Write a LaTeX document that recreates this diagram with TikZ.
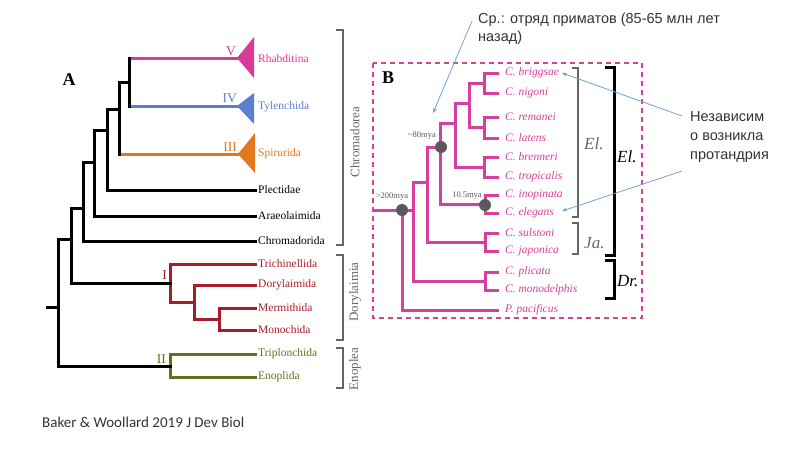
\documentclass[tikz,border=0pt]{standalone}
\usepackage{fontspec}
\setmainfont{Liberation Serif}
\newfontfamily\annfont{Liberation Sans}
\newfontfamily\footfont{Carlito}
\usetikzlibrary{arrows.meta}
\definecolor{pkA}{HTML}{D63C98}
\definecolor{blA}{HTML}{5B7ED0}
\definecolor{orA}{HTML}{E2791C}
\definecolor{rdA}{HTML}{A61C2C}
\definecolor{olA}{HTML}{6C6C1E}
\definecolor{pkB}{HTML}{D6409C}
\definecolor{gryB}{HTML}{666666}
\definecolor{dotB}{HTML}{5A5A5A}
\definecolor{annB}{HTML}{6FA2D8}
\definecolor{txtD}{HTML}{333333}
\begin{document}
\begin{tikzpicture}[x=1pt,y=-1pt,
  treeline/.style={line width=3pt, line cap=rect, line join=miter},
  blk/.style={treeline, black},
  labA/.style={anchor=west, inner sep=0pt, font=\fontsize{11.5}{13}\selectfont},
  labB/.style={anchor=west, inner sep=0pt, text=pkB, font=\fontsize{11.5}{13}\selectfont\itshape},
  numA/.style={anchor=east, inner sep=0pt, font=\fontsize{13.5}{14}\selectfont},
  brk/.style={line width=2.5pt, gryB, line join=miter},
  brkK/.style={line width=3pt, black, line join=miter},
  grp/.style={rotate=90, inner sep=0pt, text=gryB, font=\fontsize{13}{14}\selectfont},
  myalab/.style={inner sep=0pt, text=dotB, font=\fontsize{8.5}{9}\selectfont},
  dotnode/.style={circle, fill=dotB, minimum size=12pt, inner sep=0pt},
  annline/.style={annB, line width=0.8pt, -{Stealth[length=5pt,width=4pt]}},
  bigit/.style={anchor=west, inner sep=0pt, font=\fontsize{17}{18}\selectfont\itshape}
]
\useasboundingbox (0,0) rectangle (800,450);

% ---------------- Tree A ----------------
\coordinate (Rh) at (237,58);
\coordinate (Ty) at (237,106);
\coordinate (Sp) at (238,154);
\coordinate (Pl) at (255,190);
\coordinate (Ar) at (255,216);
\coordinate (Ch) at (255,241);
\coordinate (Tr) at (255,264);
\coordinate (Do) at (255,285);
\coordinate (Me) at (255,308);
\coordinate (Mo) at (255,330);
\coordinate (Tp) at (255,354);
\coordinate (En) at (255,377);
\coordinate (n5) at (129,82);
\coordinate (n4) at (119,109);
\coordinate (n3) at (107,130);
\coordinate (n2) at (94,162);
\coordinate (n1) at (83,208);
\coordinate (nC) at (71,239);
\coordinate (r0) at (58,307);
\coordinate (r0s) at (47,307);
\coordinate (nI) at (170,283);
\coordinate (nDo) at (194,302);
\coordinate (nMe) at (219,319);
\coordinate (nII) at (170,366);

% coloured clades
\draw[treeline, pkA] (n5 |- Rh) -- (Rh);
\fill[pkA] (Rh) -- ++(17,-21) -- ++(0,41) -- cycle;
\draw[treeline, blA] (n5 |- Ty) -- (Ty);
\fill[blA] (Ty) -- ++(17,-13) -- ++(0,31) -- cycle;
\draw[treeline, orA] (n4 |- Sp) -- (Sp);
\fill[orA] (Sp) -- ++(17,-21) -- ++(0,40) -- cycle;
\draw[treeline, rdA] (Tr) -| (nI |- nDo) -- (nDo);
\draw[treeline, rdA] (Do) -| (nDo |- nMe) -- (nMe);
\draw[treeline, rdA] (Me) -| (nMe |- Mo) -- (Mo);
\draw[treeline, olA] (Tp) -| (nII |- En) -- (En);

% black backbone
\draw[blk] (n5 |- Rh) -- (n5 |- Ty);
\draw[blk] (n4 |- Sp) |- (n5);
\draw[blk] (n3 |- Pl) |- (n4);
\draw[blk] (n3 |- Pl) -- (Pl);
\draw[blk] (n2 |- Ar) |- (n3);
\draw[blk] (n2 |- Ar) -- (Ar);
\draw[blk] (n1 |- Ch) |- (n2);
\draw[blk] (n1 |- Ch) -- (Ch);
\draw[blk] (nC |- nI) |- (n1);
\draw[blk] (nC |- nI) -- (nI);
\draw[blk] (r0 |- nII) |- (nC);
\draw[blk] (r0 |- nII) -- (nII);
\draw[blk] (r0s) -- (r0);

% labels A
\node[labA, text=pkA] (lRh) at (258,59) {Rhabditina};
\node[labA, text=blA] (lTy) at (258,107) {Tylenchida};
\node[labA, text=orA] (lSp) at (258,154) {Spirurida};
\node[labA] (lPl) at (258,190) {Plectidae};
\node[labA] (lAr) at (258,216) {Araeolaimida};
\node[labA] (lCh) at (258,241) {Chromadorida};
\node[labA, text=rdA] (lTr) at (258,264) {Trichinellida};
\node[labA, text=rdA] (lDo) at (258,285) {Dorylaimida};
\node[labA, text=rdA] (lMe) at (258,308) {Mermithida};
\node[labA, text=rdA] (lMo) at (258,330) {Monochida};
\node[labA, text=olA] (lTp) at (258,354) {Triplonchida};
\node[labA, text=olA] (lEn) at (258,377) {Enoplida};

\node[numA, text=pkA] (rV) at (236,51) {V};
\node[numA, text=blA] (rIV) at (237,98) {IV};
\node[numA, text=orA] (rIII) at (237,147) {III};
\node[numA, text=rdA] (rI) at (167,275) {I};
\node[numA, text=olA] (rII) at (166,359) {II};

\node[inner sep=0pt, font=\fontsize{18}{20}\selectfont\bfseries] (letA) at (69,80) {A};

% group brackets A
\draw[brk] (336,30) -- (343,30) -- (343,245) -- (336,245);
\draw[brk] (336,255) -- (343,255) -- (343,340) -- (336,340);
\draw[brk] (336,348) -- (343,348) -- (343,388) -- (336,388);
\node[grp] (gCh) at (355,142) {Chromadorea};
\node[grp] (gDo) at (355,292) {Dorylaimia};
\node[grp] (gEn) at (355,369) {Enoplea};

% ---------------- Tree B ----------------
\draw[pkB, line width=2pt, dash pattern=on 5pt off 4pt] (373,63) rectangle (642,318);
\node[inner sep=0pt, font=\fontsize{18}{20}\selectfont\bfseries] (letB) at (388,78) {B};

\coordinate (bri) at (497,73);
\coordinate (nig) at (497,93);
\coordinate (rem) at (497,117);
\coordinate (lat) at (497,138);
\coordinate (bre) at (497,157);
\coordinate (tro) at (497,177);
\coordinate (ino) at (497,195);
\coordinate (ele) at (497,213);
\coordinate (sul) at (497,233);
\coordinate (jap) at (497,251);
\coordinate (pli) at (497,272);
\coordinate (mon) at (497,290);
\coordinate (pac) at (497,310);

\coordinate (bn) at (484,83);
\coordinate (rl) at (484,127);
\coordinate (bt) at (484,167);
\coordinate (ie) at (485,204);
\coordinate (sj) at (485,242);
\coordinate (pm) at (485,281);
\coordinate (brl) at (469,103);
\coordinate (brlbt) at (455,123);
\coordinate (n80) at (440,147);
\coordinate (nJ) at (427,182);
\coordinate (nDr) at (413,210);
\coordinate (rt) at (402,210);
\coordinate (rs) at (375,210);

\begin{scope}[treeline, pkB]
\draw (bri) -| (bn) |- (nig);
\draw (rem) -| (rl) |- (lat);
\draw (bre) -| (bt) |- (tro);
\draw (ino) -| (ie) |- (ele);
\draw (sul) -| (sj) |- (jap);
\draw (pli) -| (pm) |- (mon);
\draw (bn) -| (brl) |- (rl);
\draw (brl) -| (brlbt) |- (bt);
\draw (brlbt) -| (n80) |- (ie);
\draw (n80) -| (nJ) |- (sj);
\draw (nJ) -| (nDr) |- (pm);
\draw (rs) -- (nDr);
\draw (rt) |- (pac);
\end{scope}

\node[dotnode] (d80) at (441,147) {};
\node[dotnode] (d10) at (485,205) {};
\node[dotnode] (d200) at (402,210) {};
\node[myalab] (m80) at (422,136) {\textasciitilde80mya};
\node[myalab] (m10) at (467,196) {10.5mya};
\node[myalab] (m200) at (392,197) {>200mya};

\node[labB] (lbri) at (505,73) {C. briggsae};
\node[labB] (lnig) at (505,93) {C. nigoni};
\node[labB] (lrem) at (505,117) {C. remanei};
\node[labB] (llat) at (505,138) {C. latens};
\node[labB] (lbre) at (505,157) {C. brenneri};
\node[labB] (ltro) at (505,177) {C. tropicalis};
\node[labB] (lino) at (505,195) {C. inopinata};
\node[labB] (lele) at (505,213) {C. elegans};
\node[labB] (lsul) at (505,233) {C. sulstoni};
\node[labB] (ljap) at (505,251) {C. japonica};
\node[labB] (lpli) at (505,272) {C. plicata};
\node[labB] (lmon) at (505,290) {C. monodelphis};
\node[labB] (lpac) at (505,310) {P. pacificus};

% brackets B
\draw[brk] (572,68) -- (578,68) -- (578,217) -- (572,217);
\draw[brk] (572,223) -- (578,223) -- (578,254) -- (572,254);
\draw[brkK] (605,67) -- (614,67) -- (614,255) -- (605,255);
\draw[brkK] (605,260) -- (614,260) -- (614,298) -- (605,298);
\node[bigit, text=gryB] (gEl) at (584,144) {El.};
\node[bigit, text=gryB] (gJa) at (584,243) {Ja.};
\node[bigit] (kEl) at (617,157) {El.};
\node[bigit] (kDr) at (617,281) {Dr.};

% annotations
\node[anchor=north west, inner sep=0pt, text=txtD, align=left, font=\annfont\fontsize{14.5}{18}\selectfont] (annTop) at (478,13) {Ср.: отряд приматов (85-65 млн лет\\назад)};
\node[anchor=north west, inner sep=0pt, text=txtD, align=left, font=\annfont\fontsize{14.5}{19}\selectfont] (annRight) at (690,111) {Независим\\о возникла\\протандрия};

\coordinate (aT0) at (472,21);
\coordinate (aT1) at (433,113);
\coordinate (aR0) at (682,116);
\coordinate (aR1) at (562,73);
\coordinate (aS0) at (682,171);
\coordinate (aS1) at (562,211);
\draw[annline] (aT0) -- (aT1);
\draw[annline] (aR0) -- (aR1);
\draw[annline] (aS0) -- (aS1);

\node[anchor=west, inner sep=0pt, text=txtD, font=\footfont\fontsize{15}{16}\selectfont] (foot) at (42,422) {Baker \& Woollard 2019 J Dev Biol};
\end{tikzpicture}
\end{document}
